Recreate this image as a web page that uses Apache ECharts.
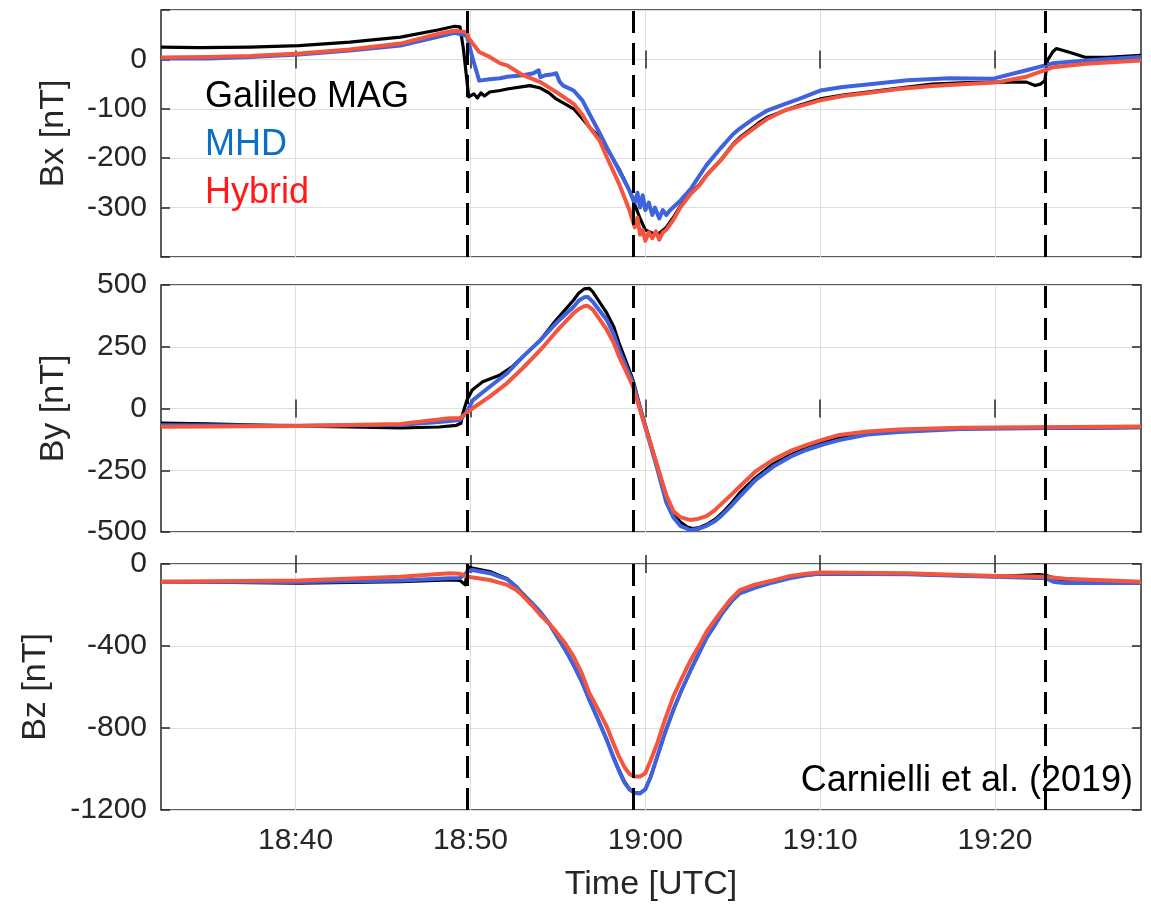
<!DOCTYPE html>
<html>
<head>
<meta charset="utf-8">
<title>Galileo flyby magnetic field: Bx, By, Bz</title>
<script src="https://cdn.jsdelivr.net/npm/echarts@6/dist/echarts.min.js"></script>
<style>
  html, body { margin: 0; padding: 0; background: #fff; }
  #chart { width: 1151px; height: 907px; }
</style>
</head>
<body>
<div id="chart"></div>
<script>
// Time is given in minutes after 18:00 UTC; field values in nT.
const timeRange = [32.3, 88.35];
const timeTicks = [40, 50, 60, 70, 80];
const boundaryTimes = [49.8, 59.3, 82.9];

const seriesNames = ['Galileo MAG', 'MHD', 'Hybrid'];
const panelNames = ['Bx [nT]', 'By [nT]', 'Bz [nT]'];
const yLimits = [[-400, 100], [-500, 500], [-1200, 0]];
const yIntervals = [100, 250, 400];
const yHiddenTicks = [[-400, 100], [], []];

// ---- Bx ----
const bxMag = [
  [32.3, 25], [34.5, 24], [37.4, 25], [40.2, 28], [43.1, 35], [46.0, 45], [48.2, 60], [49.1, 67],
  [49.4, 66], [49.6, 20], [49.9, -76], [50.2, -70], [50.4, -78], [50.6, -68], [50.8, -74],
  [51.1, -66], [51.7, -63], [52.1, -60], [53.0, -55], [53.4, -53], [54.0, -58], [54.5, -68],
  [54.9, -80], [55.4, -90], [55.9, -100], [56.4, -120], [56.8, -137], [57.4, -158], [58.0, -192],
  [58.5, -222], [59.0, -258], [59.3, -285], [59.7, -322], [60.0, -345], [60.4, -352], [60.8, -352],
  [61.2, -340], [61.6, -320], [62.0, -297], [62.6, -270], [63.1, -253], [63.5, -234], [64.3, -204],
  [65.0, -172], [65.5, -155], [66.0, -142], [66.5, -128], [67.0, -117], [68.0, -103], [68.8, -93],
  [70.0, -80], [71.3, -72], [72.7, -66], [74.5, -58], [76.4, -50], [78.4, -47], [80.0, -46],
  [81.8, -46], [82.3, -53], [82.6, -50], [82.85, -43], [83.0, -2], [83.3, 15], [83.5, 22],
  [84.3, 14], [85.2, 4], [86.4, 4], [88.35, 8]
];
const bxMhd = [
  [32.3, 2], [35.0, 2], [37.4, 5], [40.2, 10], [43.1, 18], [46.0, 28], [48.2, 46], [49.1, 54],
  [49.8, 48], [50.1, 5], [50.5, -43], [51.1, -40], [51.7, -38], [52.1, -35], [53.0, -32],
  [53.6, -28], [53.9, -22], [54.0, -36], [54.3, -32], [54.7, -30], [54.9, -28], [55.1, -45],
  [55.3, -53], [55.9, -63], [56.4, -83], [56.8, -110], [57.4, -150], [57.8, -178], [58.5, -225],
  [59.1, -266], [59.4, -290], [59.55, -270], [59.7, -300], [59.85, -275], [60.0, -305], [60.2, -290],
  [60.4, -315], [60.55, -300], [60.8, -322], [61.0, -305], [61.2, -315], [61.4, -306], [62.0, -286],
  [62.6, -262], [63.1, -235], [63.5, -214], [64.3, -180], [65.0, -152], [65.4, -140], [66.2, -120],
  [67.0, -103], [68.0, -90], [68.8, -80], [70.0, -63], [71.3, -56], [72.7, -51], [75.0, -42],
  [77.4, -38], [79.9, -39], [81.8, -22], [83.3, -8], [85.2, -2], [88.35, 5]
];
const bxHybrid = [
  [32.3, 4], [35.0, 5], [37.4, 7], [40.2, 12], [43.1, 20], [46.0, 32], [48.2, 52], [49.1, 58],
  [49.8, 55], [49.9, 43], [50.5, 15], [51.1, 5], [51.7, -8], [52.1, -12], [53.0, -32], [54.0, -46],
  [54.9, -66], [55.9, -90], [56.4, -112], [56.8, -137], [57.4, -165], [57.8, -198], [58.5, -252],
  [59.1, -306], [59.4, -340], [59.55, -320], [59.7, -355], [59.85, -345], [60.0, -367], [60.2, -350],
  [60.4, -362], [60.6, -348], [60.8, -365], [61.0, -350], [61.2, -345], [61.6, -325], [62.0, -300],
  [62.6, -272], [63.1, -255], [63.5, -235], [64.3, -205], [65.0, -174], [65.5, -158], [66.0, -145],
  [66.5, -132], [67.0, -120], [68.0, -103], [68.8, -95], [70.0, -83], [71.3, -74], [72.7, -68],
  [74.5, -60], [76.4, -54], [78.4, -50], [80.0, -47], [81.8, -35], [83.3, -16], [85.2, -9],
  [88.35, -2]
];

// ---- By ----
const byMag = [
  [32.3, -59], [35.0, -62], [40.2, -71], [43.1, -74], [46.0, -79], [48.2, -75], [49.2, -68],
  [49.45, -60], [49.57, -18], [49.8, 34], [50.1, 75], [50.7, 108], [51.7, 136], [52.4, 170],
  [53.0, 210], [54.0, 277], [54.9, 358], [55.9, 439], [56.2, 468], [56.5, 484], [56.8, 486],
  [57.0, 472], [57.3, 440], [57.8, 386], [58.2, 330], [58.5, 265], [58.9, 190], [59.3, 115],
  [59.7, 7], [60.2, -115], [60.7, -236], [61.2, -357], [61.6, -420], [62.0, -460], [62.4, -480],
  [62.7, -486], [63.1, -482], [63.5, -470], [64.0, -448], [64.4, -423], [64.9, -385], [65.4, -342],
  [66.3, -280], [67.3, -225], [68.3, -188], [69.2, -160], [70.2, -138], [71.1, -120], [72.7, -100],
  [74.5, -90], [78.0, -82], [82.0, -80], [85.0, -80], [88.35, -78]
];
const byMhd = [
  [32.3, -68], [40.2, -70], [46.0, -66], [48.2, -55], [49.4, -47], [49.8, -13], [50.14, 34],
  [51.1, 88], [52.1, 143], [53.0, 210], [54.0, 277], [54.9, 346], [55.9, 412], [56.2, 437],
  [56.5, 450], [56.7, 452], [57.0, 432], [57.4, 395], [57.8, 358], [58.2, 300], [58.5, 237],
  [58.9, 170], [59.3, 103], [59.7, 0], [60.2, -125], [60.7, -249], [61.2, -380], [61.6, -440],
  [62.0, -475], [62.55, -492], [63.0, -488], [63.5, -475], [64.0, -455], [64.4, -431], [64.9, -395],
  [65.4, -357], [66.3, -290], [67.3, -236], [68.3, -195], [69.2, -168], [70.2, -145], [71.1, -128],
  [72.7, -105], [74.5, -95], [78.0, -83], [82.0, -80], [88.35, -75]
];
const byHybrid = [
  [32.3, -74], [40.2, -71], [46.0, -63], [48.8, -39], [49.4, -39], [49.8, -18], [50.14, 2],
  [51.1, 48], [52.1, 103], [53.0, 164], [54.0, 237], [54.9, 311], [55.9, 386], [56.2, 403],
  [56.5, 414], [56.7, 416], [57.0, 400], [57.4, 360], [57.8, 318], [58.2, 265], [58.5, 210],
  [58.9, 150], [59.3, 88], [59.7, -6], [60.2, -120], [60.7, -236], [61.2, -350], [61.6, -415],
  [62.0, -440], [62.55, -451], [63.0, -447], [63.5, -436], [64.0, -410], [64.4, -383], [64.9, -350],
  [65.4, -316], [66.3, -255], [67.3, -208], [68.3, -172], [69.2, -148], [70.2, -125], [71.1, -107],
  [72.7, -93], [74.5, -85], [78.0, -78], [82.0, -76], [88.35, -73]
];

// ---- Bz ----
const bzMag = [
  [32.3, -86], [40.2, -93], [46.0, -86], [48.8, -78], [49.4, -80], [49.7, -102], [49.85, -13],
  [50.1, -20], [51.1, -37], [52.1, -72], [52.6, -108], [53.0, -145], [53.5, -188], [54.0, -234],
  [54.5, -290], [54.9, -346], [55.4, -415], [55.9, -493], [56.4, -580], [56.8, -663], [57.3, -760],
  [57.8, -859], [58.2, -945], [58.5, -1005], [58.8, -1060], [59.1, -1098], [59.4, -1115],
  [59.7, -1117], [60.0, -1098], [60.3, -1040], [60.7, -935], [61.1, -830], [61.6, -712],
  [62.1, -610], [62.6, -517], [63.1, -430], [63.5, -361], [64.0, -295], [64.4, -240], [64.9, -185],
  [65.4, -143], [66.3, -113], [67.3, -88], [68.3, -66], [69.2, -54], [70.0, -48], [75.0, -50],
  [80.0, -62], [82.5, -52], [82.9, -55], [84.0, -85], [88.35, -90]
];
const bzMhd = [
  [32.3, -86], [40.2, -88], [46.0, -80], [48.8, -70], [49.4, -68], [49.9, -35], [50.1, -29],
  [51.1, -45], [52.1, -75], [52.6, -110], [53.0, -150], [53.5, -190], [54.0, -235], [54.5, -290],
  [54.9, -346], [55.4, -415], [55.9, -493], [56.4, -580], [56.8, -663], [57.3, -760], [57.8, -859],
  [58.2, -950], [58.5, -1010], [58.8, -1065], [59.1, -1100], [59.4, -1117], [59.7, -1119],
  [60.0, -1100], [60.3, -1040], [60.7, -935], [61.1, -830], [61.6, -712], [62.1, -610], [62.6, -517],
  [63.1, -430], [63.5, -361], [64.0, -295], [64.4, -240], [64.9, -185], [65.4, -143], [66.3, -115],
  [67.3, -90], [68.3, -68], [69.2, -55], [70.0, -47], [75.0, -50], [80.0, -62], [82.9, -70],
  [83.4, -88], [84.0, -93], [88.35, -93]
];
const bzHybrid = [
  [32.3, -86], [40.2, -81], [46.0, -62], [48.8, -45], [49.4, -48], [49.85, -62], [51.1, -78],
  [52.1, -102], [52.6, -125], [53.0, -155], [53.5, -200], [54.0, -249], [54.5, -290], [54.9, -330],
  [55.4, -385], [55.9, -452], [56.4, -540], [56.8, -630], [57.3, -710], [57.8, -794], [58.2, -880],
  [58.5, -940], [58.8, -990], [59.1, -1025], [59.4, -1037], [59.7, -1037], [60.0, -1020],
  [60.3, -960], [60.7, -870], [61.1, -765], [61.6, -647], [62.1, -555], [62.6, -468], [63.1, -395],
  [63.5, -330], [64.0, -270], [64.4, -224], [64.9, -170], [65.4, -127], [66.3, -100], [67.3, -80],
  [68.3, -58], [69.2, -47], [70.0, -42], [75.0, -45], [80.0, -58], [82.9, -62], [84.0, -72],
  [88.35, -86]
];

const panelData = [
  [bxMag, bxMhd, bxHybrid],
  [byMag, byMhd, byHybrid],
  [bzMag, bzMhd, bzHybrid]
];

// ---- styling ----
const FONT = '"Liberation Sans", Arial, Helvetica, sans-serif';
const AXIS_COLOR = '#262626';
const GRID_COLOR = '#dedede';
const lineColors = ['#000000', '#3f63df', '#f3553e'];
const lineWidths = [3.2, 4, 4];
const legendColors = ['#000000', '#0b6fc6', '#ff1a1a'];
const panelRects = [
  { top: 10, height: 247 },
  { top: 285, height: 247 },
  { top: 564, height: 246 }
];
const yLabelSizes = [30, 30, 30];
const yNameGaps = [90, 90, 108];

function clockLabel(v) {
  const h = 18 + Math.floor(v / 60);
  const m = Math.round(v - Math.floor(v / 60) * 60);
  return h + ':' + (m < 10 ? '0' : '') + m;
}

const grids = [], xAxes = [], yAxes = [], series = [];
const tickStyle = { show: true, inside: true, length: 9, lineStyle: { color: AXIS_COLOR, width: 1.5 } };

panelRects.forEach((r) => {
  grids.push({
    left: 161, right: 10, top: r.top, height: r.height,
    show: true, borderColor: AXIS_COLOR, borderWidth: 1.5, backgroundColor: '#fff',
    containLabel: false, outerBoundsMode: 'none'
  });
});

// bottom time axes
panelRects.forEach((r, p) => {
  const last = p === panelRects.length - 1;
  xAxes.push({
    type: 'value', gridIndex: p, position: 'bottom',
    min: timeRange[0], max: timeRange[1],
    axisLine: { show: false },
    axisTick: Object.assign({ customValues: timeTicks }, tickStyle),
    splitLine: { show: true, lineStyle: { color: GRID_COLOR, width: 1 } },
    axisLabel: {
      show: last, customValues: timeTicks, formatter: clockLabel, margin: 16,
      fontSize: 30, fontFamily: FONT, color: AXIS_COLOR
    },
    name: last ? 'Time [UTC]' : '', nameLocation: 'middle', nameGap: 58,
    nameTextStyle: { fontSize: 34, fontFamily: FONT, color: AXIS_COLOR }
  });
});
// top time axes (tick marks only)
panelRects.forEach((r, p) => {
  xAxes.push({
    type: 'value', gridIndex: p, position: 'top',
    min: timeRange[0], max: timeRange[1],
    axisLine: { show: false },
    axisTick: Object.assign({ customValues: timeTicks }, tickStyle),
    splitLine: { show: false }, axisLabel: { show: false }
  });
});
// left value axes
panelRects.forEach((r, p) => {
  const hidden = yHiddenTicks[p];
  yAxes.push({
    type: 'value', gridIndex: p, position: 'left',
    min: yLimits[p][0], max: yLimits[p][1], interval: yIntervals[p],
    axisLine: { show: false },
    axisTick: tickStyle,
    splitLine: { show: true, lineStyle: { color: GRID_COLOR, width: 1 } },
    axisLabel: {
      margin: 14, fontSize: yLabelSizes[p], fontFamily: FONT, color: AXIS_COLOR,
      formatter: v => (hidden.indexOf(v) >= 0 ? '' : String(v))
    },
    name: panelNames[p], nameLocation: 'middle', nameGap: yNameGaps[p],
    nameTextStyle: { fontSize: 34, fontFamily: FONT, color: AXIS_COLOR }
  });
});
// right value axes (tick marks only)
panelRects.forEach((r, p) => {
  yAxes.push({
    type: 'value', gridIndex: p, position: 'right',
    min: yLimits[p][0], max: yLimits[p][1], interval: yIntervals[p],
    axisLine: { show: false }, axisTick: tickStyle,
    splitLine: { show: false }, axisLabel: { show: false }
  });
});

panelData.forEach((sets, p) => {
  sets.forEach((data, k) => {
    const s = {
      type: 'line', name: seriesNames[k], xAxisIndex: p, yAxisIndex: p,
      data: data, showSymbol: false, symbol: 'none', clip: true, z: 2 + k,
      lineStyle: { color: lineColors[k], width: lineWidths[k], join: 'round' },
      itemStyle: { color: lineColors[k] },
      emphasis: { disabled: true }
    };
    if (k === 0) {
      // spacecraft boundary crossings
      s.markLine = {
        silent: true, symbol: ['none', 'none'], z: 10,
        label: { show: false },
        lineStyle: { color: '#000', width: 3, type: [22, 10] },
        emphasis: { disabled: true },
        data: boundaryTimes.map(t => ({ xAxis: t }))
      };
    }
    series.push(s);
  });
});

const chart = echarts.init(document.getElementById('chart'), null, { renderer: 'canvas' });
chart.setOption({
  animation: false,
  backgroundColor: '#fff',
  grid: grids,
  xAxis: xAxes,
  yAxis: yAxes,
  legend: {
    orient: 'vertical', left: 195, top: 74, itemGap: 12,
    itemWidth: 0, itemHeight: 0, icon: 'rect', selectedMode: false,
    textStyle: { fontSize: 36, fontFamily: FONT },
    data: seriesNames.map((n, k) => ({ name: n, textStyle: { color: legendColors[k], fontSize: 36, fontFamily: FONT } }))
  },
  graphic: [{
    type: 'text', right: 18, top: 763, z: 20,
    style: { text: 'Carnielli et al. (2019)', fontSize: 36, fontFamily: FONT, fill: '#000' }
  }],
  series: series
});
</script>
</body>
</html>
